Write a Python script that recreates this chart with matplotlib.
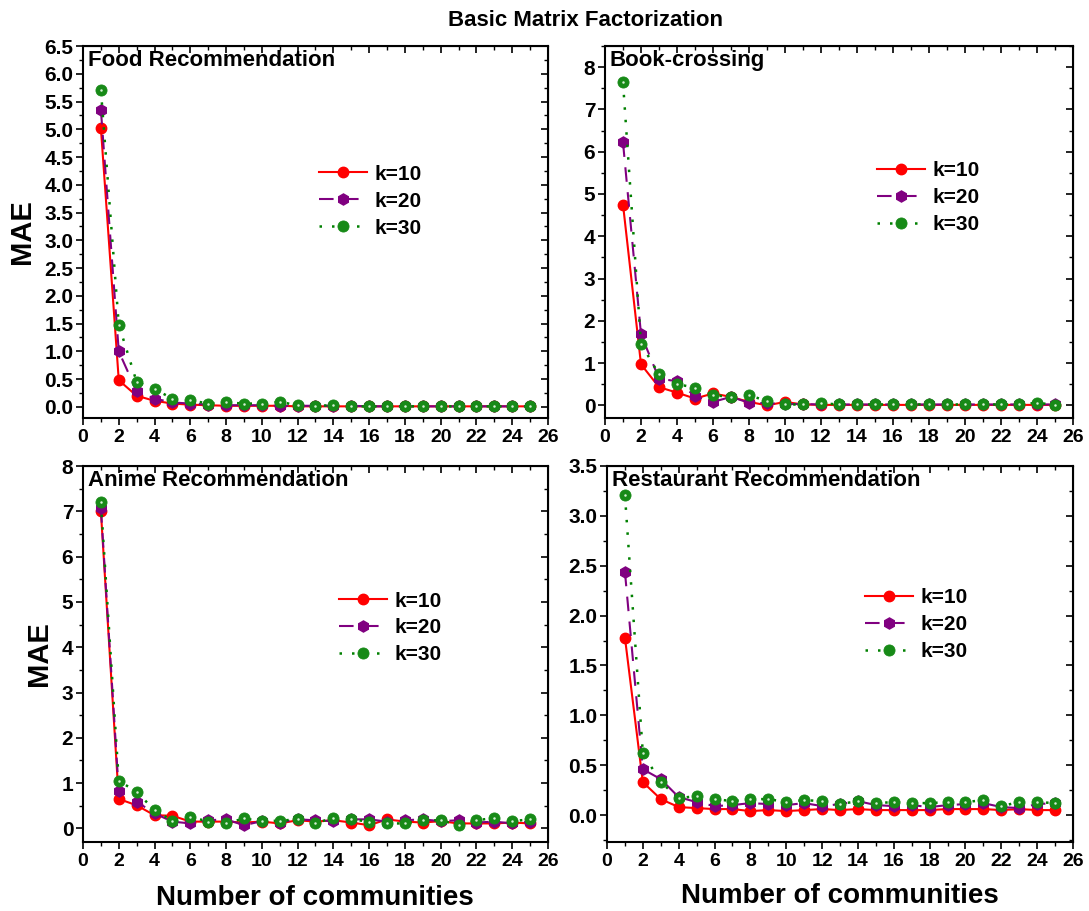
import matplotlib
matplotlib.use("Agg")
import matplotlib.pyplot as plt
from matplotlib.ticker import MultipleLocator, FormatStrFormatter

plt.rcParams['font.family'] = ['Liberation Sans', 'DejaVu Sans']
plt.rcParams['font.weight'] = 'bold'

communities = list(range(1, 26))

# Food Recommendation
food_k10 = [5.02, 0.48, 0.20, 0.11, 0.06, 0.04, 0.03, 0.02, 0.02, 0.02, 0.02, 0.01, 0.01,
            0.01, 0.01, 0.01, 0.01, 0.01, 0.01, 0.01, 0.01, 0.01, 0.01, 0.01, 0.01]
food_k20 = [5.35, 1.00, 0.28, 0.15, 0.08, 0.06, 0.04, 0.03, 0.03, 0.03, 0.02, 0.02, 0.02,
            0.02, 0.02, 0.01, 0.01, 0.01, 0.01, 0.01, 0.01, 0.01, 0.01, 0.01, 0.01]
food_k30 = [5.71, 1.48, 0.45, 0.32, 0.15, 0.12, 0.06, 0.08, 0.06, 0.06, 0.09, 0.03, 0.02,
            0.03, 0.01, 0.01, 0.01, 0.01, 0.01, 0.01, 0.01, 0.01, 0.01, 0.01, 0.01]

# Book-crossing
book_k10 = [4.75, 0.97, 0.43, 0.30, 0.16, 0.28, 0.20, 0.08, 0.00, 0.08, 0.02, 0.01, 0.01,
            0.01, 0.01, 0.01, 0.01, 0.01, 0.01, 0.01, 0.01, 0.01, 0.01, 0.01, 0.01]
book_k20 = [6.22, 1.68, 0.63, 0.57, 0.22, 0.08, 0.20, 0.06, 0.05, 0.03, 0.03, 0.02, 0.02,
            0.02, 0.02, 0.02, 0.02, 0.02, 0.02, 0.02, 0.02, 0.02, 0.02, 0.02, 0.02]
book_k30 = [7.64, 1.46, 0.73, 0.50, 0.42, 0.24, 0.20, 0.24, 0.10, 0.02, 0.02, 0.05, 0.02,
            0.02, 0.02, 0.02, 0.02, 0.02, 0.02, 0.02, 0.02, 0.02, 0.02, 0.06, 0.01]

# Anime Recommendation
anime_k10 = [7.00, 0.65, 0.51, 0.29, 0.28, 0.15, 0.15, 0.15, 0.13, 0.15, 0.11, 0.18, 0.15,
             0.18, 0.13, 0.07, 0.20, 0.15, 0.13, 0.16, 0.11, 0.11, 0.11, 0.13, 0.11]
anime_k20 = [7.07, 0.82, 0.59, 0.33, 0.15, 0.11, 0.18, 0.20, 0.07, 0.16, 0.13, 0.20, 0.18,
             0.16, 0.20, 0.20, 0.15, 0.18, 0.20, 0.16, 0.18, 0.13, 0.15, 0.11, 0.15]
anime_k30 = [7.20, 1.05, 0.81, 0.40, 0.17, 0.26, 0.15, 0.11, 0.22, 0.16, 0.17, 0.20, 0.11,
             0.24, 0.20, 0.15, 0.11, 0.11, 0.18, 0.18, 0.07, 0.18, 0.23, 0.16, 0.20]

# Restaurant Recommendation
rest_k10 = [1.78, 0.33, 0.16, 0.08, 0.07, 0.06, 0.06, 0.04, 0.05, 0.04, 0.05, 0.06, 0.05,
            0.06, 0.05, 0.05, 0.05, 0.05, 0.06, 0.06, 0.06, 0.05, 0.06, 0.05, 0.05]
rest_k20 = [2.44, 0.46, 0.36, 0.18, 0.13, 0.09, 0.10, 0.12, 0.11, 0.10, 0.12, 0.09, 0.11,
            0.14, 0.10, 0.09, 0.10, 0.08, 0.10, 0.11, 0.12, 0.08, 0.07, 0.11, 0.12]
rest_k30 = [3.21, 0.62, 0.33, 0.17, 0.19, 0.16, 0.14, 0.16, 0.16, 0.13, 0.15, 0.14, 0.11,
            0.14, 0.12, 0.13, 0.12, 0.12, 0.13, 0.13, 0.15, 0.09, 0.13, 0.13, 0.12]

panels = [
    ("Food Recommendation", food_k10, food_k20, food_k30),
    ("Book-crossing", book_k10, book_k20, book_k30),
    ("Anime Recommendation", anime_k10, anime_k20, anime_k30),
    ("Restaurant Recommendation", rest_k10, rest_k20, rest_k30),
]

# axes boxes in figure fraction (left, bottom, width, height)
W, H = 1089, 911
BOXES = [
    (83 / W, 1 - 418 / H, 465 / W, 372 / H),
    (605 / W, 1 - 418 / H, 468 / W, 372 / H),
    (83 / W, 1 - 842 / H, 465 / W, 376 / H),
    (607 / W, 1 - 842 / H, 466 / W, 376 / H),
]
YLIMS = [(-0.2, 6.5), (-0.3, 8.5), (-0.3, 8.0), (-0.27, 3.5)]
YMAJOR = [0.5, 1, 1, 0.5]
YMINOR = [0.25, 0.5, 0.5, 0.25]
YFMT = ["%.1f", "%d", "%d", "%.1f"]
LEG_POS = [(0.476, 0.72), (0.55, 0.73), (0.52, 0.705), (0.522, 0.713)]


def style_axes(ax, i):
    ax.set_xlim(0, 26)
    ax.set_ylim(*YLIMS[i])
    ax.xaxis.set_major_locator(MultipleLocator(2))
    ax.xaxis.set_minor_locator(MultipleLocator(1))
    ax.yaxis.set_major_locator(MultipleLocator(YMAJOR[i]))
    ax.yaxis.set_minor_locator(MultipleLocator(YMINOR[i]))
    ax.yaxis.set_major_formatter(FormatStrFormatter(YFMT[i]))
    ax.tick_params(which='major', direction='out', length=5, width=1.2)
    ax.tick_params(which='minor', direction='out', length=3, width=1)
    ax.tick_params(axis='x', labelsize=14, pad=3)
    ax.tick_params(axis='y', labelsize=15, pad=2)
    for lab in ax.get_xticklabels() + ax.get_yticklabels():
        lab.set_fontweight('bold')
    for sp in ax.spines.values():
        sp.set_linewidth(1.5)
    # inward ticks on top and right, no labels
    top = ax.secondary_xaxis('top')
    top.xaxis.set_major_locator(MultipleLocator(2))
    top.xaxis.set_minor_locator(MultipleLocator(1))
    top.tick_params(which='major', direction='in', length=5, width=1.2, labeltop=False)
    top.tick_params(which='minor', direction='in', length=3, width=1)
    right = ax.secondary_yaxis('right')
    right.yaxis.set_major_locator(MultipleLocator(YMAJOR[i]))
    right.yaxis.set_minor_locator(MultipleLocator(YMINOR[i]))
    right.tick_params(which='major', direction='in', length=5, width=1.2, labelright=False)
    right.tick_params(which='minor', direction='in', length=3, width=1)


fig = plt.figure(figsize=(W / 100, H / 100), dpi=100)

for i, (name, k10, k20, k30) in enumerate(panels):
    ax = fig.add_axes(BOXES[i])
    ax.plot(communities, k10, color="red", linestyle="-", linewidth=1.5,
            marker="o", markersize=7.5, markeredgecolor="red", label="k=10")
    ax.plot(communities, k20, color="purple", linestyle=(0, (7, 5)), linewidth=1.5,
            marker="h", markersize=8, markeredgecolor="purple", label="k=20")
    ax.plot(communities, k30, color="green", linestyle=(0, (1, 4)), linewidth=1.8,
            marker="o", markersize=8, markerfacecolor="#178a17", markeredgecolor="#178a17",
            markeredgewidth=0.6, label="k=30")
    ax.plot(communities, k30, linestyle="None", marker="o", markersize=1.8,
            markerfacecolor="#d5f0d5", markeredgecolor="none")
    style_axes(ax, i)
    ax.text(0.01, 0.99, name, transform=ax.transAxes, ha="left", va="top",
            fontsize=16, fontweight="bold")
    handles, labels = ax.get_legend_handles_labels()
    ax.legend(handles[:3], labels[:3], loc="upper left", bbox_to_anchor=LEG_POS[i],
              frameon=False, handlelength=2.3, handletextpad=0.35, labelspacing=0.38,
              borderpad=0.2, prop={'weight': 'bold', 'size': 15})
    if i in (0, 2):
        ax.set_ylabel("MAE", fontsize=21, fontweight="bold", labelpad=6)

fig.text(0.538, 1 - 20 / H, "Basic Matrix Factorization", ha="center", va="center",
         fontsize=16, fontweight="bold")
fig.text(315 / W, 1 - 898 / H, "Number of communities", ha="center", va="center",
         fontsize=20, fontweight="bold")
fig.text(840 / W, 1 - 896 / H, "Number of communities", ha="center", va="center",
         fontsize=20, fontweight="bold")

fig.savefig("out.png", dpi=100)
